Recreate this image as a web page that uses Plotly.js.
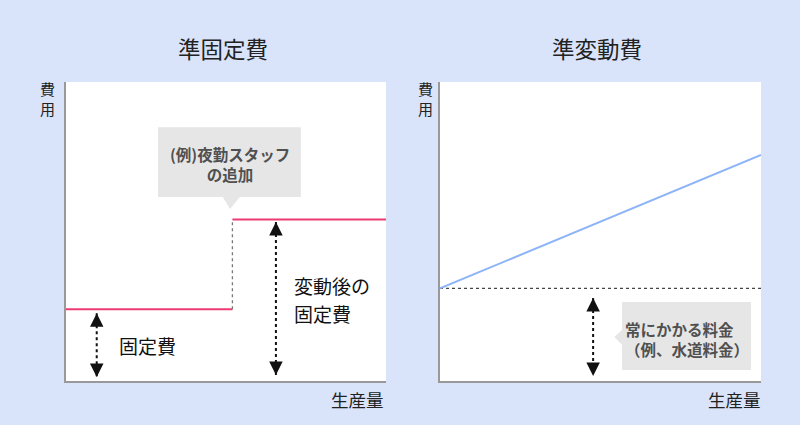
<!DOCTYPE html>
<html>
<head>
<meta charset="utf-8">
<script src="https://cdn.plot.ly/plotly-3.0.1.min.js"></script>
<style>html,body{margin:0;padding:0;background:#d9e4fb;}#chart{width:800px;height:425px;}</style>
</head>
<body>
<div id="chart"></div>
<script>
// ---- data ----
const titles = ['準固定費', '準変動費'];
const yLabel = '費<br>用';
const xLabel = '生産量';

// left chart: quasi-fixed cost (step)
const fixedX = [0, 52, null, 52, 100];
const fixedY = [24, 24, null, 54, 54];
const stepX = [52, 52];
const stepY = [24, 54];
const arrow1X = [9.6, 9.6];
const arrow1Y = [22.7, 1.3];
const arrow2X = [65.6, 65.6];
const arrow2Y = [53.2, 2.0];
const label1 = '固定費';
const label1Pos = [15.9, 12.0];
const label2Lines = ['変動後の', '固定費'];
const label2X = 70.6;
const label2Y = [32.1, 22.7];
const callout1 = '(例)夜勤スタッフ<br>の追加';
const callout1Pos = [51.1, 72.6];

// right chart: quasi-variable cost
const varX = [0, 100];
const varY = [31, 75.6];
const baseX = [0, 100];
const baseY = [31, 31];
const arrow3X = [47.7, 47.7];
const arrow3Y = [27.8, 1.7];
const callout2 = '常にかかる料金<br>（例、水道料金）';
const callout2Pos = [76.8, 14.0];

// ---- styling ----
const FONT = '"Noto Sans CJK JP", "Noto Sans", sans-serif';
const PINK = '#ee3a72';
const BLUE = '#8db4f7';
const BOXC = '#e6e6e6';

const traces = [
  {x: fixedX, y: fixedY, xaxis: 'x', yaxis: 'y', mode: 'lines', line: {color: PINK, width: 2}, connectgaps: false, hoverinfo: 'skip'},
  {x: stepX, y: stepY, xaxis: 'x', yaxis: 'y', mode: 'lines', line: {color: '#777', width: 1.3, dash: 'dot'}, hoverinfo: 'skip'},
  {x: arrow1X, y: arrow1Y, xaxis: 'x', yaxis: 'y', mode: 'lines', line: {color: '#111', width: 2, dash: 'dot'}, hoverinfo: 'skip'},
  {x: arrow2X, y: arrow2Y, xaxis: 'x', yaxis: 'y', mode: 'lines', line: {color: '#111', width: 2, dash: 'dot'}, hoverinfo: 'skip'},
  {x: baseX, y: baseY, xaxis: 'x2', yaxis: 'y2', mode: 'lines', line: {color: '#444', width: 1.3, dash: 'dot'}, hoverinfo: 'skip'},
  {x: varX, y: varY, xaxis: 'x2', yaxis: 'y2', mode: 'lines', line: {color: BLUE, width: 2}, hoverinfo: 'skip'},
  {x: arrow3X, y: arrow3Y, xaxis: 'x2', yaxis: 'y2', mode: 'lines', line: {color: '#111', width: 2, dash: 'dot'}, hoverinfo: 'skip'}
];

function head(xr, yr, x, y, up) {
  return {xref: xr, yref: yr, x: x, y: y, text: '', showarrow: true, ax: 0, ay: up ? 9 : -9,
          arrowhead: 2, arrowsize: 1.5, arrowwidth: 1.8, arrowcolor: '#111', standoff: 0};
}

const annotations = [
  {xref: 'paper', yref: 'paper', x: 223/800, y: 1 - 48/425, text: titles[0], showarrow: false,
   font: {family: FONT, size: 22.5, color: '#222'}, xanchor: 'center', yanchor: 'middle'},
  {xref: 'paper', yref: 'paper', x: 597/800, y: 1 - 48/425, text: titles[1], showarrow: false,
   font: {family: FONT, size: 22.5, color: '#222'}, xanchor: 'center', yanchor: 'middle'},
  {xref: 'paper', yref: 'paper', x: 47/800, y: 1 - 99/425, text: yLabel, showarrow: false,
   font: {family: FONT, size: 15, color: '#222'}, xanchor: 'center', yanchor: 'middle'},
  {xref: 'paper', yref: 'paper', x: 425/800, y: 1 - 99/425, text: yLabel, showarrow: false,
   font: {family: FONT, size: 15, color: '#222'}, xanchor: 'center', yanchor: 'middle'},
  {xref: 'paper', yref: 'paper', x: 386/800, y: 1 - 399/425, text: xLabel, showarrow: false,
   font: {family: FONT, size: 17.5, color: '#222'}, xanchor: 'right', yanchor: 'middle'},
  {xref: 'paper', yref: 'paper', x: 763/800, y: 1 - 399/425, text: xLabel, showarrow: false,
   font: {family: FONT, size: 17.5, color: '#222'}, xanchor: 'right', yanchor: 'middle'},
  {xref: 'x', yref: 'y', x: label1Pos[0], y: label1Pos[1], text: label1, showarrow: false,
   font: {family: FONT, size: 19, color: '#111'}, xanchor: 'left', yanchor: 'middle'},
  {xref: 'x', yref: 'y', x: label2X, y: label2Y[0], text: label2Lines[0], showarrow: false,
   font: {family: FONT, size: 19, color: '#111'}, xanchor: 'left', yanchor: 'middle'},
  {xref: 'x', yref: 'y', x: label2X, y: label2Y[1], text: label2Lines[1], showarrow: false,
   font: {family: FONT, size: 19, color: '#111'}, xanchor: 'left', yanchor: 'middle'},
  {xref: 'x', yref: 'y', x: callout1Pos[0], y: callout1Pos[1], text: callout1, showarrow: false, align: 'center',
   font: {family: FONT, size: 15.5, color: '#505050', weight: 'bold'}, xanchor: 'center', yanchor: 'middle'},
  {xref: 'x2', yref: 'y2', x: callout2Pos[0], y: callout2Pos[1], text: callout2, showarrow: false, align: 'left',
   font: {family: FONT, size: 15.5, color: '#505050', weight: 'bold'}, xanchor: 'center', yanchor: 'middle'},
  head('x', 'y', arrow1X[0], arrow1Y[0], true),
  head('x', 'y', arrow1X[1], arrow1Y[1], false),
  head('x', 'y', arrow2X[0], arrow2Y[0], true),
  head('x', 'y', arrow2X[1], arrow2Y[1], false),
  head('x2', 'y2', arrow3X[0], arrow3Y[0], true),
  head('x2', 'y2', arrow3X[1], arrow3Y[1], false)
];

const shapes = [
  {type: 'rect', xref: 'x', yref: 'y', x0: 28.75, x1: 73.4, y0: 61.5, y1: 84.9, fillcolor: BOXC, line: {width: 0}, layer: 'below'},
  {type: 'path', xref: 'x', yref: 'y', path: 'M 48.97 61.6 L 54.4 61.6 L 51.25 57.5 Z', fillcolor: BOXC, line: {width: 0}, layer: 'below'},
  {type: 'rect', xref: 'x2', yref: 'y2', x0: 56.7, x1: 96.9, y0: 3.7, y1: 26.4, fillcolor: BOXC, line: {width: 0}, layer: 'below'},
  {type: 'path', xref: 'x2', yref: 'y2', path: 'M 56.8 17.1 L 56.8 12.0 L 54.3 14.7 Z', fillcolor: BOXC, line: {width: 0}, layer: 'below'}
];

const axBase = {range: [0, 100], showgrid: false, zeroline: false, showticklabels: false, ticks: '',
                showline: true, linecolor: '#999', linewidth: 2, fixedrange: true};

const layout = {
  width: 800, height: 425,
  margin: {l: 0, r: 0, t: 0, b: 0},
  paper_bgcolor: '#d9e4fb',
  plot_bgcolor: '#ffffff',
  showlegend: false,
  xaxis: Object.assign({}, axBase, {domain: [66/800, 386/800], anchor: 'y'}),
  yaxis: Object.assign({}, axBase, {domain: [44/425, 343/425], anchor: 'x'}),
  xaxis2: Object.assign({}, axBase, {domain: [440/800, 761/800], anchor: 'y2'}),
  yaxis2: Object.assign({}, axBase, {domain: [44/425, 343/425], anchor: 'x2'}),
  annotations: annotations,
  shapes: shapes
};

Plotly.newPlot('chart', traces, layout, {displayModeBar: false, staticPlot: true});
</script>
</body>
</html>
